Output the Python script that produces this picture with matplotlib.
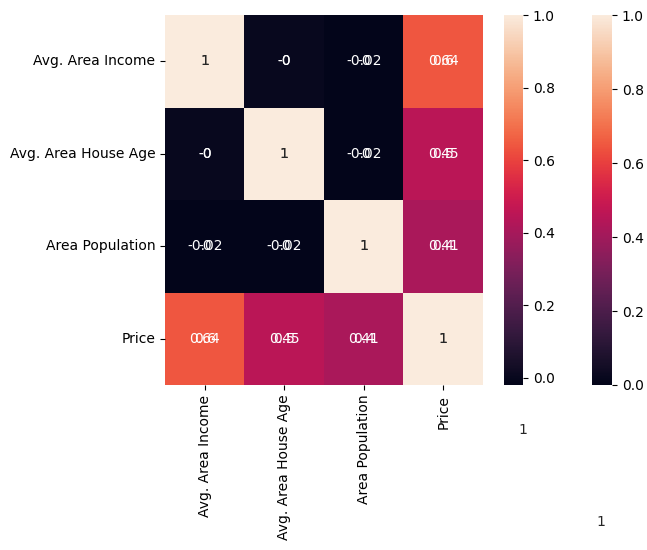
import numpy as np
import pandas as pd
import matplotlib
matplotlib.use("Agg")
import matplotlib.pyplot as plt
import seaborn as sns

# correlation matrix of the housing columns
cols = ["Avg. Area Income", "Avg. Area House Age", "Area Population", "Price"]
income = [1.0, -0.002, -0.016, 0.640]
house_age = [-0.002, 1.0, -0.019, 0.453]
population = [-0.016, -0.019, 1.0, 0.409]
price = [0.640, 0.453, 0.409, 1.0]

corr = pd.DataFrame([income, house_age, population, price], index=cols, columns=cols)

fig = plt.figure(figsize=(6.47, 5.5), dpi=100)
ax = fig.add_axes([0.255, 0.3, 0.4915, 0.6727])
cax_far = fig.add_axes([0.915, 0.3, 0.031, 0.6727])
cax_near = fig.add_axes([0.779, 0.3, 0.0294, 0.6727])

# drawn twice on the same axes, once rounded to 1 and once to 2 decimals
sns.heatmap(corr.round(1), annot=True, ax=ax, cbar_ax=cax_far)
sns.heatmap(corr.round(2), annot=True, ax=ax, cbar_ax=cax_near)

ax.set_position([0.255, 0.3, 0.4915, 0.6727])
cax_far.set_position([0.915, 0.3, 0.031, 0.6727])
cax_near.set_position([0.779, 0.3, 0.0294, 0.6727])

# stray labels left over below the colorbars
fig.text(523 / 647, 1 - 430 / 550, "1", ha="center", va="center", color="0.15", fontsize=10)
fig.text(601 / 647, 1 - 522 / 550, "1", ha="center", va="center", color="0.15", fontsize=10)

fig.savefig("out.png", dpi=100)
